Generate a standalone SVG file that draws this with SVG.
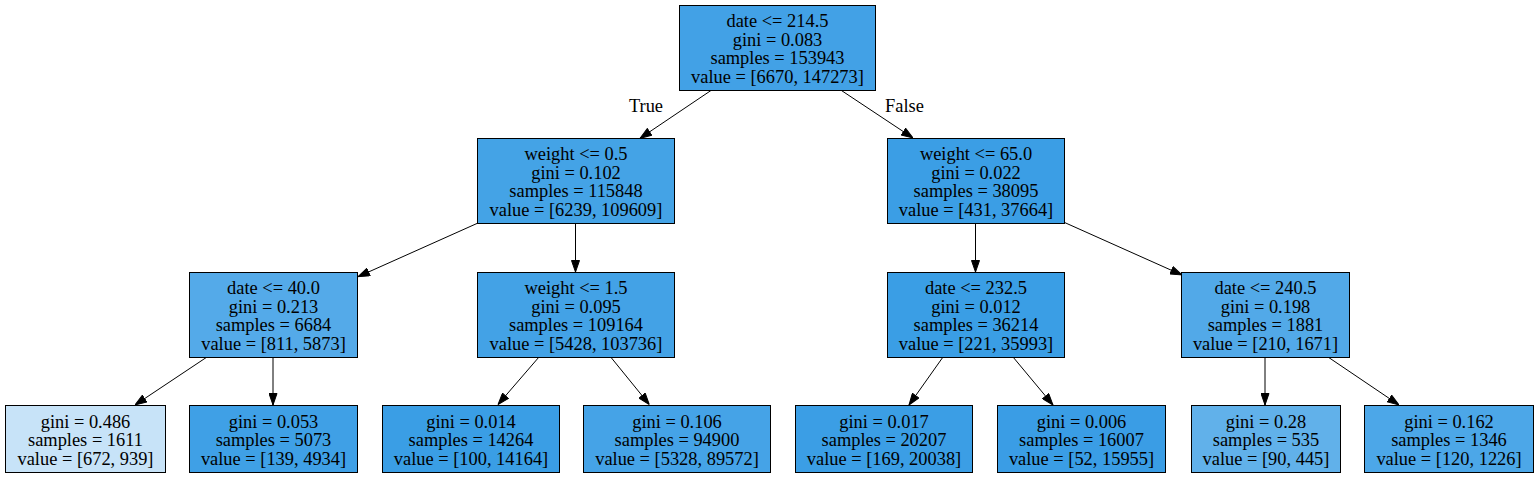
<svg xmlns="http://www.w3.org/2000/svg" width="1539" height="477" viewBox="0 0 1539 477">
<style>
rect{stroke:#000;stroke-width:1}
text{font-family:"Liberation Serif","Times New Roman",serif;font-size:18.4px;fill:#000;text-anchor:middle}
.e line{stroke:#000;stroke-width:1;marker-end:url(#ah)}
</style>
<defs>
<marker id="ah" markerUnits="userSpaceOnUse" markerWidth="12" markerHeight="9" viewBox="0 0 12 9" refX="12" refY="4.5" orient="auto">
<path d="M0.5,0.5 L12,4.5 L0.5,8.5 z" fill="#000" stroke="#000" stroke-width="1"/>
</marker>
</defs>
<rect width="1539" height="477" fill="#fff" style="stroke:none"/>
<g id="edges" class="e">
<line x1="711.7" y1="90" x2="640" y2="138.3"/>
<line x1="840.7" y1="90" x2="913" y2="138"/>
<line x1="478" y1="223" x2="358" y2="276.7"/>
<line x1="575.5" y1="223" x2="575.5" y2="272"/>
<line x1="975.5" y1="223" x2="975.5" y2="272"/>
<line x1="1065" y1="222.7" x2="1182" y2="275"/>
<line x1="207" y1="357" x2="135" y2="405"/>
<line x1="273" y1="357" x2="273" y2="405"/>
<line x1="539" y1="357" x2="498" y2="404.5"/>
<line x1="610.7" y1="357" x2="649.3" y2="404.5"/>
<line x1="943" y1="357" x2="909" y2="405"/>
<line x1="1013" y1="357" x2="1053" y2="405"/>
<line x1="1265" y1="357" x2="1265" y2="405"/>
<line x1="1328" y1="357" x2="1399" y2="405"/>
<text x="646" y="111.5">True</text>
<text x="904.5" y="111.5">False</text>
</g>
<g id="n0"><rect x="679.5" y="5.5" width="196" height="85" fill="#42a1e6"/>
<text x="777.5" y="27">date &lt;= 214.5</text><text x="777.5" y="45.5">gini = 0.083</text><text x="777.5" y="64">samples = 153943</text><text x="777.5" y="82.5">value = [6670, 147273]</text></g>
<g id="n1"><rect x="477.5" y="138.5" width="197" height="85" fill="#44a3e6"/>
<text x="576" y="160">weight &lt;= 0.5</text><text x="576" y="178.5">gini = 0.102</text><text x="576" y="197">samples = 115848</text><text x="576" y="215.5">value = [6239, 109609]</text></g>
<g id="n8"><rect x="887.5" y="138.5" width="177" height="85" fill="#3b9ee5"/>
<text x="976" y="160">weight &lt;= 65.0</text><text x="976" y="178.5">gini = 0.022</text><text x="976" y="197">samples = 38095</text><text x="976" y="215.5">value = [431, 37664]</text></g>
<g id="n2"><rect x="189.5" y="272.5" width="168" height="85" fill="#54aae9"/>
<text x="273.5" y="294">date &lt;= 40.0</text><text x="273.5" y="312.5">gini = 0.213</text><text x="273.5" y="331">samples = 6684</text><text x="273.5" y="349.5">value = [811, 5873]</text></g>
<g id="n5"><rect x="477.5" y="272.5" width="197" height="85" fill="#43a2e6"/>
<text x="576" y="294">weight &lt;= 1.5</text><text x="576" y="312.5">gini = 0.095</text><text x="576" y="331">samples = 109164</text><text x="576" y="349.5">value = [5428, 103736]</text></g>
<g id="n9"><rect x="887.5" y="272.5" width="177" height="85" fill="#3a9ee5"/>
<text x="976" y="294">date &lt;= 232.5</text><text x="976" y="312.5">gini = 0.012</text><text x="976" y="331">samples = 36214</text><text x="976" y="349.5">value = [221, 35993]</text></g>
<g id="n12"><rect x="1181.5" y="272.5" width="168" height="85" fill="#52a9e8"/>
<text x="1265.5" y="294">date &lt;= 240.5</text><text x="1265.5" y="312.5">gini = 0.198</text><text x="1265.5" y="331">samples = 1881</text><text x="1265.5" y="349.5">value = [210, 1671]</text></g>
<g id="n3"><rect x="5.5" y="405.5" width="160" height="67" fill="#c7e3f8"/>
<text x="85.5" y="427.5">gini = 0.486</text><text x="85.5" y="446">samples = 1611</text><text x="85.5" y="464.5">value = [672, 939]</text></g>
<g id="n4"><rect x="189.5" y="405.5" width="168" height="67" fill="#3fa0e6"/>
<text x="273.5" y="427.5">gini = 0.053</text><text x="273.5" y="446">samples = 5073</text><text x="273.5" y="464.5">value = [139, 4934]</text></g>
<g id="n6"><rect x="382.5" y="405.5" width="177" height="67" fill="#3a9ee5"/>
<text x="471" y="427.5">gini = 0.014</text><text x="471" y="446">samples = 14264</text><text x="471" y="464.5">value = [100, 14164]</text></g>
<g id="n7"><rect x="583.5" y="405.5" width="187" height="67" fill="#45a3e7"/>
<text x="677" y="427.5">gini = 0.106</text><text x="677" y="446">samples = 94900</text><text x="677" y="464.5">value = [5328, 89572]</text></g>
<g id="n10"><rect x="795.5" y="405.5" width="177" height="67" fill="#3b9ee5"/>
<text x="884" y="427.5">gini = 0.017</text><text x="884" y="446">samples = 20207</text><text x="884" y="464.5">value = [169, 20038]</text></g>
<g id="n11"><rect x="997.5" y="405.5" width="168" height="67" fill="#3a9de5"/>
<text x="1081.5" y="427.5">gini = 0.006</text><text x="1081.5" y="446">samples = 16007</text><text x="1081.5" y="464.5">value = [52, 15955]</text></g>
<g id="n13"><rect x="1191.5" y="405.5" width="149" height="67" fill="#61b1ea"/>
<text x="1266" y="427.5">gini = 0.28</text><text x="1266" y="446">samples = 535</text><text x="1266" y="464.5">value = [90, 445]</text></g>
<g id="n14"><rect x="1364.5" y="405.5" width="169" height="67" fill="#4ca7e8"/>
<text x="1449" y="427.5">gini = 0.162</text><text x="1449" y="446">samples = 1346</text><text x="1449" y="464.5">value = [120, 1226]</text></g>
</svg>
